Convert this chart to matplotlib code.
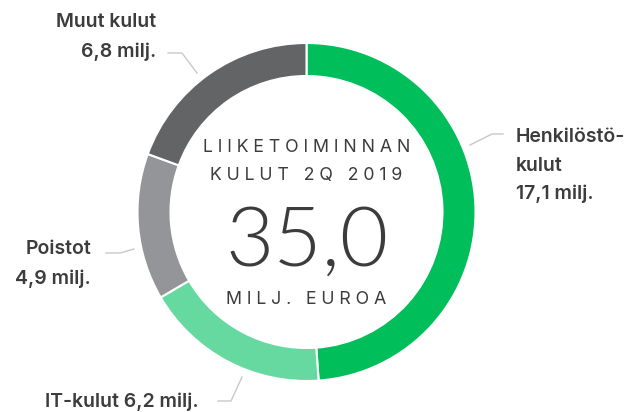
import matplotlib
matplotlib.use("Agg")
import matplotlib.pyplot as plt
from matplotlib import font_manager
from matplotlib.font_manager import FontProperties

labels = ["Henkilöstökulut", "IT-kulut", "Poistot", "Muut kulut"]
values = [17.1, 6.2, 4.9, 6.8]
value_texts = ["17,1 milj.", "6,2 milj.", "4,9 milj.", "6,8 milj."]
colors = ["#00be5a", "#66d9a0", "#939598", "#636466"]
total_text = "35,0"
title_lines = ["LIIKETOIMINNAN", "KULUT 2Q 2019"]
unit_text = "MILJ. EUROA"

W, H = 643, 412
fig = plt.figure(figsize=(W / 100, H / 100), dpi=100)
ax = fig.add_axes([0, 0, 1, 1])

cx, cy, R, w = 306.5, 212, 169, 33
ax.pie(values, colors=colors, startangle=-90, counterclock=True, radius=R,
       center=(cx, cy), frame=True,
       wedgeprops=dict(width=w, edgecolor="white", linewidth=1.5))
ax.set_xlim(0, W)
ax.set_ylim(H, 0)
ax.set_aspect("equal")
ax.axis("off")

files = {f.fname.split("/")[-1]: f.fname for f in font_manager.fontManager.ttflist}

def fp(fname, size, fallback_family, weight):
    if fname in files:
        return FontProperties(fname=files[fname], size=size)
    return FontProperties(family=fallback_family, weight=weight, size=size)

lab_fp = fp("Inter-SemiBold.otf", 14, "DejaVu Sans", "bold")
cap_fp = fp("Inter-Regular.otf", 12.8, "DejaVu Sans", "normal")
big_fp = fp("Lato-Light.ttf", 60, "DejaVu Sans", "light")
tc = "#3c3c3c"
lc = "#c8c8c8"

def t(x, y, s, prop, ha="left"):
    ax.text(x, y, s, ha=ha, va="center", fontproperties=prop, color=tc)

def spaced(s):
    return "\u2009\u200a".join(s)

# labels
t(516, 137, "Henkilöstö-", lab_fp)
t(516, 166, "kulut", lab_fp)
t(516, 194, value_texts[0], lab_fp)
t(156, 22, labels[3], lab_fp, ha="right")
t(156, 52, value_texts[3], lab_fp, ha="right")
t(91, 249, labels[2], lab_fp, ha="right")
t(91, 279, value_texts[2], lab_fp, ha="right")
t(45, 402, labels[1] + " " + value_texts[1], lab_fp)

# leader lines
for xs, ys in [([470, 492, 503], [145, 134, 134]),
               ([168, 182, 197], [53, 53, 73]),
               ([106, 120, 134], [253, 253, 249]),
               ([218, 231, 242], [401, 401, 377])]:
    ax.plot(xs, ys, color=lc, lw=1)

# centre text
t(cx, 148, spaced(title_lines[0]), cap_fp, ha="center")
t(cx, 175, spaced(title_lines[1]), cap_fp, ha="center")
t(cx, 243, total_text, big_fp, ha="center")
t(cx, 300, spaced(unit_text), cap_fp, ha="center")

fig.savefig("out.png", dpi=100, facecolor="white")
